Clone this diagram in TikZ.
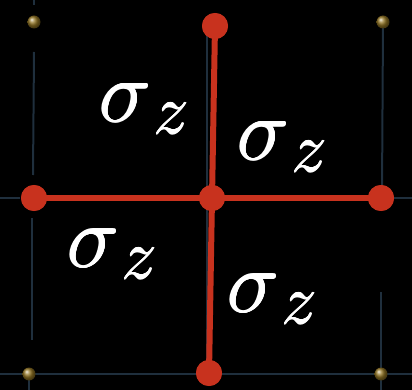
\documentclass[tikz,border=0pt]{standalone}
\usepackage{graphicx}
\usepackage{tikz}
\definecolor{bgc}{HTML}{000000}
\definecolor{gridc}{HTML}{1F2F3D}
\definecolor{redc}{HTML}{C8321E}
\definecolor{goldc}{HTML}{947624}
\newcommand{\sigz}{\scalebox{4.25}{\huge$\sigma$\kern0.6pt\raisebox{-2.8pt}{\scalebox{0.8}{$z$}}}}
\tikzset{
  gridline/.style={draw=gridc, line width=2pt},
  reddot/.style={circle, fill=redc, minimum size=26pt, inner sep=0pt},
  golddot/.style={circle, ball color=goldc, minimum size=13pt, inner sep=0pt},
  redline/.style={draw=redc, line width=6pt},
  lab/.style={text=white, inner sep=0pt, anchor=base west}
}
\newcommand{\boldlab}[2]{%
  \foreach \dx/\dy in {-0.5/0,0.5/0,0/-0.5,0/0.5}{\path (#1) ++(\dx,\dy) node[lab] {\sigz};}
  \node[lab] (#2) at (#1) {\sigz};}
\begin{document}
\begin{tikzpicture}[x=1pt,y=-1pt]
\fill[bgc] (0,0) rectangle (412,390);
\useasboundingbox (0,0) rectangle (412,390);
% grid lines
\draw[gridline] (34,0) -- (34,5);
\draw[gridline] (34,52) -- (33,175);
\draw[gridline] (0,198) -- (20,198);
\draw[gridline] (32,218) -- (32,340);
\draw[gridline] (0,374) -- (412,374);
\draw[gridline] (29,374) -- (29,390);
\draw[gridline] (207,25) -- (207,380);
\draw[gridline] (381,198) -- (412,198);
\draw[gridline] (383,22) -- (382,195);
\draw[gridline] (381,292) -- (381,390);
% gold dots
\node[golddot] (g1) at (34,22) {};
\node[golddot] (g2) at (383,22) {};
\node[golddot] (g3) at (29,374) {};
\node[golddot] (g4) at (381,374) {};
% red nodes
\node[reddot] (c) at (212,198) {};
\node[reddot] (t) at (215,26) {};
\node[reddot] (l) at (34,198) {};
\node[reddot] (r) at (381,198) {};
\node[reddot] (b) at (209,373) {};
\draw[redline] (t.center) -- (c.center);
\draw[redline] (c.center) -- (b.center);
\draw[redline] (l.center) -- (r.center);
\node[reddot] at (c) {};
\node[reddot] at (t) {};
\node[reddot] at (l) {};
\node[reddot] at (r) {};
\node[reddot] at (b) {};
% labels
\boldlab{99,122}{s1}
\boldlab{237,160}{s2}
\boldlab{67,267}{s3}
\boldlab{227,312}{s4}
\end{tikzpicture}
\end{document}
